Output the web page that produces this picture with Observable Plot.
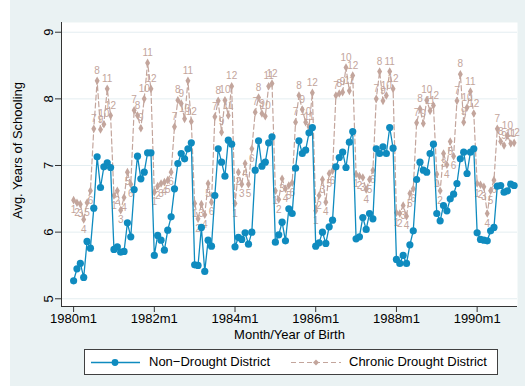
<!DOCTYPE html>
<html><head><meta charset="utf-8">
<script src="https://cdn.jsdelivr.net/npm/d3@7"></script>
<script src="https://cdn.jsdelivr.net/npm/@observablehq/plot@0.6"></script>
<style>
html,body{margin:0;padding:0;background:#fff;width:525px;height:387px;overflow:hidden;font-family:"Liberation Sans",Arial,sans-serif;}
#bg{position:absolute;left:10px;top:0;width:515px;height:386px;background:#eaf2f3;}
#chart{position:absolute;left:0;top:0;}
#legend{position:absolute;left:84px;top:349px;width:412px;height:24px;background:#fff;border:1px solid #404040;}
#legend span{position:absolute;top:4px;font-size:13px;color:#000;white-space:nowrap;}
</style></head><body>
<div id="bg"></div><div id="chart"></div><div id="legend"></div>
<script>
const years = [1980,1981,1982,1983,1984,1985,1986,1987,1988,1989,1990];
const monthNums = [1,2,3,4,5,6,7,8,9,10,11,12];
const nonDrought = [
  5.27,5.45,5.53,5.32,5.86,5.76,6.36,7.13,6.67,6.98,7.04,6.97,
  5.74,5.78,5.70,5.71,6.14,5.93,6.64,7.14,6.80,6.90,7.19,7.19,
  5.65,5.95,5.88,5.73,6.03,6.23,6.65,7.03,7.18,7.10,7.25,7.34,
  5.51,5.50,6.07,5.41,5.88,5.79,6.55,7.25,7.05,6.84,7.38,7.32,
  5.78,5.92,5.89,5.99,5.82,6.00,6.93,7.37,6.99,7.05,7.34,7.43,
  5.85,5.96,6.15,5.87,6.35,6.28,6.96,7.37,7.18,7.23,7.49,7.57,
  5.79,5.84,6.00,5.83,6.08,6.18,6.98,7.12,7.20,6.97,7.35,7.51,
  5.90,5.93,6.22,6.04,6.28,6.20,7.25,7.18,7.28,7.18,7.57,7.26,
  5.59,5.53,5.65,5.53,5.81,6.02,6.79,7.05,6.93,6.90,7.18,7.32,
  6.28,6.17,6.40,6.32,6.50,6.57,6.73,7.10,7.20,6.88,7.20,7.25,
  5.99,5.89,5.88,5.87,6.02,6.07,6.69,6.70,6.60,6.62,6.72,6.70
];
const drought = [
  6.48,6.44,6.42,6.19,6.44,6.62,7.55,8.27,7.54,7.62,8.15,7.75,
  6.55,6.62,6.33,6.52,6.90,6.72,7.83,7.75,7.56,8.00,8.54,8.15,
  6.60,6.69,6.73,6.75,6.78,6.90,7.58,7.98,7.93,7.70,8.27,7.66,
  6.43,6.20,6.42,6.26,6.73,6.45,7.73,7.97,7.50,7.98,7.75,8.19,
  6.43,6.90,6.72,7.03,6.72,7.25,7.80,8.02,7.78,7.74,8.19,8.23,
  6.62,6.49,6.80,6.65,6.70,6.74,7.65,8.05,7.84,7.65,7.58,8.09,
  6.32,6.55,6.79,6.45,6.88,6.92,8.05,8.08,8.10,8.47,8.12,8.35,
  6.87,6.84,6.82,6.64,6.79,6.93,8.00,8.41,7.97,8.05,8.41,8.15,
  6.29,6.28,6.40,6.24,6.58,6.65,7.64,7.85,7.63,7.98,7.82,7.90,
  6.87,6.62,7.18,7.01,7.36,7.14,7.97,8.37,7.65,7.87,8.11,7.78,
  6.73,6.71,6.68,6.28,6.62,6.78,7.55,7.36,7.30,7.45,7.33,7.34
];
const tickYears = [1980,1982,1984,1986,1988,1990];
const tickLabels = ["1980m1","1982m1","1984m1","1986m1","1988m1","1990m1"];
const yTicks = [5,6,7,8,9];
const seriesNames = ["Non\u2212Drought District","Chronic Drought District"];

const blue = "#0f8bbf", rose = "#c3a59c", axisCol = "#333";
const rows = [];
years.forEach((yr, yi) => monthNums.forEach((m, mi) => {
  const i = yi * 12 + mi;
  rows.push({t: (yr - years[0]) * 12 + mi, month: m, nd: nonDrought[i], d: drought[i]});
}));
const tickIdx = tickYears.map(y => (y - years[0]) * 12);
const xDom = [-3.6, 132], yDom = [4.884, 9.146];

const chart = Plot.plot({
  width: 525, height: 346,
  marginLeft: 61, marginRight: 8, marginTop: 22, marginBottom: 40,
  style: {background: "transparent", fontFamily: "'Liberation Sans', Arial, sans-serif", fontSize: "13px", color: "#000"},
  x: {type: "linear", domain: xDom},
  y: {domain: yDom},
  marks: [
    Plot.frame({fill: "white", stroke: "none"}),
    Plot.gridY(yTicks, {stroke: "#e4eef1", strokeOpacity: 1, strokeWidth: 1}),
    Plot.line(rows, {x: "t", y: "d", stroke: rose, strokeWidth: 1.2, strokeDasharray: "5,3"}),
    Plot.dot(rows, {x: "t", y: "d", symbol: "diamond", fill: rose, stroke: "none", r: 2.6}),
    Plot.text(rows.filter(r => r.month <= 6), {x: "t", y: "d", text: "month", dy: 10, fill: rose, fontSize: 10}),
    Plot.text(rows.filter(r => r.month > 6), {x: "t", y: "d", text: "month", dy: -10, fill: rose, fontSize: 10}),
    Plot.line(rows, {x: "t", y: "nd", stroke: blue, strokeWidth: 1.3}),
    Plot.dot(rows, {x: "t", y: "nd", fill: blue, stroke: "none", r: 3.6}),
    Plot.ruleX([xDom[0]], {stroke: axisCol, strokeWidth: 1}),
    Plot.ruleY([yDom[0]], {stroke: axisCol, strokeWidth: 1}),
    Plot.axisX({ticks: tickIdx, tickFormat: d => tickLabels[tickIdx.indexOf(d)], tickSize: 6, tickPadding: 1, label: null, stroke: axisCol}),
    Plot.axisY({ticks: yTicks, tickFormat: d => String(d), tickSize: 6, tickRotate: -90, label: null, stroke: axisCol}),
    Plot.text(["Month/Year of Birth"], {frameAnchor: "bottom", dy: 28, lineAnchor: "middle", textAnchor: "middle", fontSize: 13, fill: "#000"}),
    Plot.text(["Avg. Years of Schooling"], {frameAnchor: "left", dx: -44, dy: -14, rotate: -90, textAnchor: "middle", lineAnchor: "middle", fontSize: 13, fill: "#000"})
  ]
});
document.getElementById("chart").appendChild(chart);

// legend
const lg = document.getElementById("legend");
const ns = "http://www.w3.org/2000/svg";
const sv = document.createElementNS(ns, "svg");
sv.setAttribute("width", 412); sv.setAttribute("height", 24);
sv.style.position = "absolute"; sv.style.left = "0"; sv.style.top = "0";
sv.innerHTML =
  `<line x1="6" x2="55" y1="12.5" y2="12.5" stroke="${blue}" stroke-width="1.3"/>` +
  `<circle cx="30" cy="12.5" r="3.4" fill="${blue}"/>` +
  `<line x1="206" x2="256" y1="12.5" y2="12.5" stroke="${rose}" stroke-width="1.2" stroke-dasharray="5,3"/>` +
  `<path d="M231,9.5 L234,12.5 L231,15.5 L228,12.5 Z" fill="${rose}"/>`;
lg.appendChild(sv);
const s1 = document.createElement("span"); s1.textContent = seriesNames[0]; s1.style.left = "64px"; lg.appendChild(s1);
const s2 = document.createElement("span"); s2.textContent = seriesNames[1]; s2.style.left = "264px"; lg.appendChild(s2);
</script></body></html>
